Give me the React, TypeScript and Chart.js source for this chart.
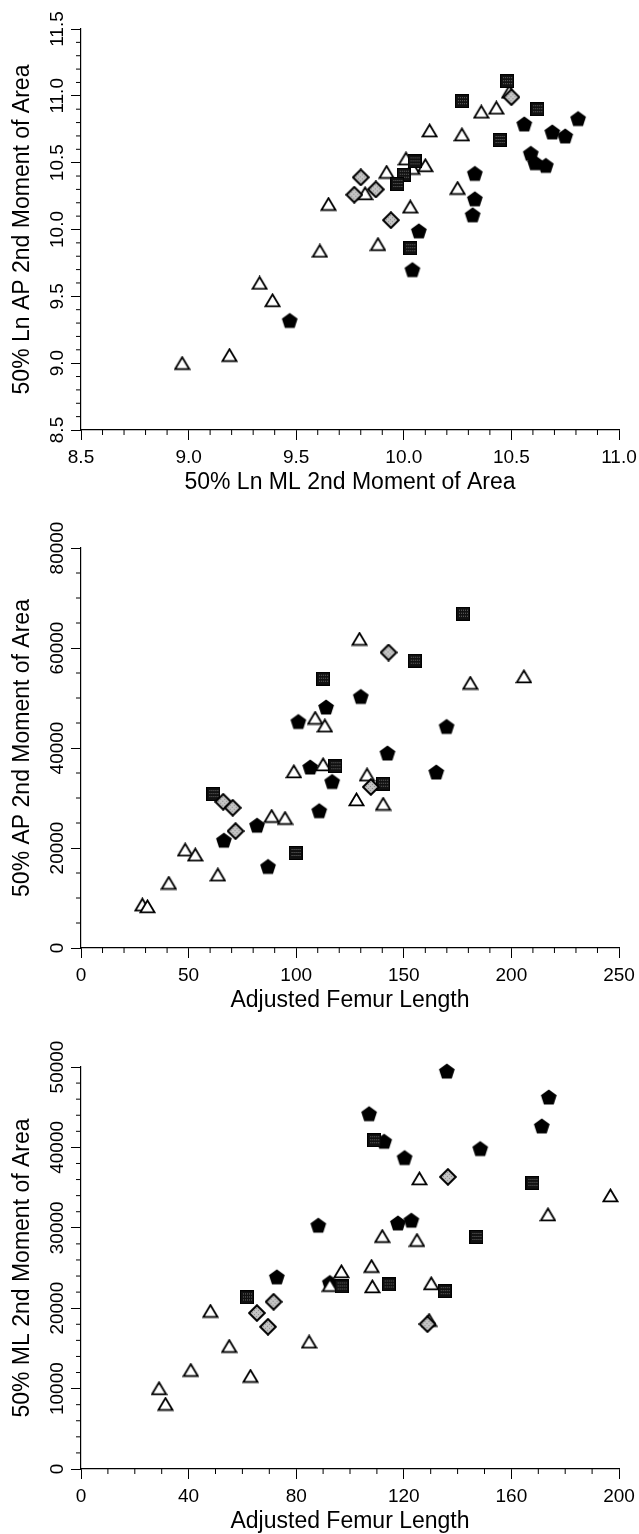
import React, { useEffect, useRef } from 'react';
import { Chart, registerables } from 'chart.js';

Chart.register(...registerables);

type Pt = [number, number];

const FONT = '"Liberation Sans", Arial, Helvetica, sans-serif';

// ---------- Panel 1: 50% Ln ML (x) vs 50% Ln AP (y) ----------
const lnXTicks = [8.5, 9.0, 9.5, 10.0, 10.5, 11.0];
const lnYTicks = [8.5, 9.0, 9.5, 10.0, 10.5, 11.0, 11.5];
const lnTriangles: Pt[] = [
  [10.49, 11.03], [10.43, 10.91], [10.36, 10.88], [10.12, 10.74], [10.27, 10.71],
  [10.01, 10.53], [10.04, 10.46], [10.1, 10.48], [9.92, 10.43], [9.82, 10.27],
  [10.25, 10.31], [9.65, 10.19], [10.03, 10.17], [9.88, 9.89], [9.61, 9.84],
  [9.33, 9.6], [9.39, 9.47], [9.19, 9.06], [8.97, 9.0],
];
const lnPentagons: Pt[] = [
  [10.81, 10.83], [10.56, 10.79], [10.69, 10.73], [10.75, 10.7], [10.59, 10.57],
  [10.61, 10.5], [10.66, 10.48], [10.33, 10.42], [10.33, 10.23], [10.32, 10.11],
  [10.07, 9.99], [10.04, 9.7], [9.47, 9.32],
];
const lnSquares: Pt[] = [
  [10.48, 11.11], [10.27, 10.96], [10.62, 10.9], [10.445, 10.67], [10.05, 10.51],
  [10.0, 10.41], [9.97, 10.34], [10.03, 9.86],
];
const lnDiamonds: Pt[] = [
  [10.5, 10.99], [9.8, 10.39], [9.87, 10.3], [9.77, 10.26], [9.94, 10.07],
];

// ---------- Panel 2: Adjusted Femur Length (x) vs 50% AP (y) ----------
const apXTicks = [0, 50, 100, 150, 200, 250];
const apYTicks = [0, 20000, 40000, 60000, 80000];
const apTriangles: Pt[] = [
  [129.4, 61800], [180.9, 53000], [205.8, 54300], [108.8, 46000], [113.3, 44460],
  [112.5, 36700], [98.9, 35300], [132.9, 34660], [128.0, 29700], [140.4, 28800],
  [88.6, 26380], [94.8, 25980], [48.4, 19660], [53.1, 18660], [63.6, 14660],
  [40.8, 13000], [28.5, 8660], [30.9, 8320],
];
const apPentagons: Pt[] = [
  [130.0, 50320], [113.9, 48200], [101.0, 45300], [169.9, 44320], [142.4, 39000],
  [106.5, 36200], [165.1, 35200], [116.7, 33300], [110.7, 27470], [81.8, 24570],
  [66.4, 21570], [86.9, 16320],
];
const apSquares: Pt[] = [
  [177.5, 66860], [155.1, 57460], [112.5, 53860], [118.2, 36360], [140.4, 32860],
  [61.5, 30780], [99.7, 19000],
];
const apDiamonds: Pt[] = [
  [142.9, 59100], [134.7, 32200], [66.1, 29240], [70.5, 28040], [71.8, 23380],
];

// ---------- Panel 3: Adjusted Femur Length (x) vs 50% ML (y) ----------
const mlXTicks = [0, 40, 80, 120, 160, 200];
const mlYTicks = [0, 10000, 20000, 30000, 40000, 50000];
const mlTriangles: Pt[] = [
  [125.8, 36130], [196.8, 34020], [173.6, 31650], [112.0, 28960], [124.9, 28460],
  [108.0, 25230], [96.8, 24580], [92.5, 22870], [108.3, 22700], [130.2, 23080],
  [48.1, 19650], [129.4, 18520], [55.1, 15290], [84.8, 15820], [40.8, 12300],
  [63.0, 11560], [29.0, 10030], [31.4, 8080],
];
const mlPentagons: Pt[] = [
  [136.0, 49500], [173.9, 46270], [107.1, 44200], [171.3, 42670], [112.7, 40770],
  [148.4, 39860], [120.3, 38740], [88.2, 30330], [117.8, 30610], [122.8, 30950],
  [72.8, 23900], [92.5, 23200],
];
const mlSquares: Pt[] = [
  [109.0, 40890], [167.8, 35590], [147.0, 28870], [96.9, 22700], [114.4, 22950],
  [135.2, 22120], [61.7, 21340],
];
const mlDiamonds: Pt[] = [
  [136.4, 36330], [71.6, 20800], [65.4, 19400], [69.5, 17690], [128.8, 18020],
];

interface PanelSpec {
  top: number;
  height: number;
  plotTop: number;
  plotBottom: number;
  titleCenter: number;
  xTicks: number[];
  yTicks: number[];
  xMinor: number;
  yMinor: number;
  decimals: number;
  xTitle: string;
  yTitle: string;
  tri: Pt[];
  pent: Pt[];
  sq: Pt[];
  dia: Pt[];
}

const panels: PanelSpec[] = [
  {
    top: 0, height: 500, plotTop: 29, plotBottom: 430, titleCenter: 483,
    xTicks: lnXTicks, yTicks: lnYTicks, xMinor: 0.1, yMinor: 0.1, decimals: 1,
    xTitle: '50% Ln ML 2nd Moment of Area', yTitle: '50% Ln AP 2nd Moment of Area',
    tri: lnTriangles, pent: lnPentagons, sq: lnSquares, dia: lnDiamonds,
  },
  {
    top: 500, height: 520, plotTop: 548, plotBottom: 948, titleCenter: 1001,
    xTicks: apXTicks, yTicks: apYTicks, xMinor: 10, yMinor: 5000, decimals: 0,
    xTitle: 'Adjusted Femur Length', yTitle: '50% AP 2nd Moment of Area',
    tri: apTriangles, pent: apPentagons, sq: apSquares, dia: apDiamonds,
  },
  {
    top: 1020, height: 514, plotTop: 1067, plotBottom: 1469, titleCenter: 1522,
    xTicks: mlXTicks, yTicks: mlYTicks, xMinor: 10, yMinor: 2000, decimals: 0,
    xTitle: 'Adjusted Femur Length', yTitle: '50% ML 2nd Moment of Area',
    tri: mlTriangles, pent: mlPentagons, sq: mlSquares, dia: mlDiamonds,
  },
];

function makeCanvas(w: number, h: number, draw: (ctx: CanvasRenderingContext2D) => void) {
  const c = document.createElement('canvas');
  c.width = w;
  c.height = h;
  const ctx = c.getContext('2d')!;
  draw(ctx);
  return c;
}

function makeMarkers() {
  const tri = makeCanvas(17, 15, (ctx) => {
    ctx.beginPath();
    ctx.moveTo(8.5, 1.5);
    ctx.lineTo(15.5, 13.3);
    ctx.lineTo(1.5, 13.3);
    ctx.closePath();
    ctx.fillStyle = '#fff';
    ctx.fill();
    ctx.lineWidth = 1.8;
    ctx.strokeStyle = '#000';
    ctx.stroke();
  });
  const pent = makeCanvas(18, 18, (ctx) => {
    const r = 8.3;
    const cx = 9;
    const cy = 9 + 0.0955 * r;
    ctx.beginPath();
    for (let k = 0; k < 5; k++) {
      const a = (-90 + 72 * k) * Math.PI / 180;
      const px = cx + r * Math.cos(a);
      const py = cy + r * Math.sin(a);
      if (k === 0) ctx.moveTo(px, py); else ctx.lineTo(px, py);
    }
    ctx.closePath();
    ctx.fillStyle = '#000';
    ctx.fill();
  });
  const sq = makeCanvas(14, 14, (ctx) => {
    ctx.fillStyle = '#111';
    ctx.fillRect(0.5, 0.5, 13, 13);
    ctx.fillStyle = '#6a6a6a';
    for (let i = 3; i < 12; i += 2) {
      for (let j = 3; j < 12; j += 3) ctx.fillRect(i, j, 1, 1);
    }
    ctx.strokeStyle = '#000';
    ctx.lineWidth = 1;
    ctx.strokeRect(0.5, 0.5, 13, 13);
  });
  const dia = makeCanvas(18, 18, (ctx) => {
    ctx.beginPath();
    ctx.moveTo(9, 1.2);
    ctx.lineTo(16.8, 9);
    ctx.lineTo(9, 16.8);
    ctx.lineTo(1.2, 9);
    ctx.closePath();
    ctx.fillStyle = '#c4c4c4';
    ctx.fill();
    ctx.save();
    ctx.clip();
    ctx.fillStyle = '#8a8a8a';
    for (let i = 2; i < 17; i += 2) {
      for (let j = 2; j < 17; j += 2) if ((i + j) % 4 === 0) ctx.fillRect(i, j, 1, 1);
    }
    ctx.restore();
    ctx.lineWidth = 2;
    ctx.strokeStyle = '#000';
    ctx.stroke();
  });
  return { tri, pent, sq, dia };
}

const axisExtras = {
  id: 'axisExtras',
  afterDraw(chart: any, _args: any, opts: any) {
    const { ctx } = chart;
    const xs = chart.scales.x;
    const ys = chart.scales.y;
    ctx.save();
    ctx.strokeStyle = '#000';
    ctx.lineWidth = 1;
    const isMajor = (v: number, ticks: any[]) => ticks.some((t) => Math.abs(t.value - v) < 1e-6);
    const nx = Math.round((xs.max - xs.min) / opts.xMinor);
    for (let i = 0; i <= nx; i++) {
      const v = xs.min + i * opts.xMinor;
      if (isMajor(v, xs.ticks)) continue;
      const p = xs.getPixelForValue(v);
      ctx.beginPath();
      ctx.moveTo(p, xs.top);
      ctx.lineTo(p, xs.top + 5);
      ctx.stroke();
    }
    const ny = Math.round((ys.max - ys.min) / opts.yMinor);
    for (let i = 0; i <= ny; i++) {
      const v = ys.min + i * opts.yMinor;
      if (isMajor(v, ys.ticks)) continue;
      const p = ys.getPixelForValue(v);
      ctx.beginPath();
      ctx.moveTo(ys.right, p);
      ctx.lineTo(ys.right - 5, p);
      ctx.stroke();
    }
    ctx.fillStyle = '#000';
    ctx.font = `19px ${FONT}`;
    ctx.textAlign = 'center';
    ctx.textBaseline = 'middle';
    ys.ticks.forEach((t: any) => {
      const p = ys.getPixelForValue(t.value);
      ctx.save();
      ctx.translate(opts.labelX, p);
      ctx.rotate(-Math.PI / 2);
      ctx.fillText(Number(t.value).toFixed(opts.decimals), 0, 0);
      ctx.restore();
    });
    ctx.restore();
  },
};

function Panel({ spec }: { spec: PanelSpec }) {
  const ref = useRef<HTMLCanvasElement>(null);
  useEffect(() => {
    const m = makeMarkers();
    const toXY = (a: Pt[]) => a.map(([x, y]) => ({ x, y }));
    const xScaleH = spec.top + spec.height - spec.plotBottom;
    const titlePad = spec.top + spec.height - spec.titleCenter - 11.5;
    const chart = new Chart(ref.current!, {
      type: 'scatter',
      data: {
        datasets: [
          { data: toXY(spec.dia), pointStyle: m.dia as any, clip: false },
          { data: toXY(spec.sq), pointStyle: m.sq as any, clip: false },
          { data: toXY(spec.tri), pointStyle: m.tri as any, clip: false },
          { data: toXY(spec.pent), pointStyle: m.pent as any, clip: false },
        ],
      },
      options: {
        responsive: false,
        animation: false,
        devicePixelRatio: 1,
        events: [],
        layout: { padding: { top: spec.plotTop - spec.top, right: 20, left: 0, bottom: 0 } },
        plugins: {
          legend: { display: false },
          tooltip: { enabled: false },
          axisExtras: { xMinor: spec.xMinor, yMinor: spec.yMinor, decimals: spec.decimals, labelX: 58 },
        } as any,
        scales: {
          x: {
            type: 'linear',
            position: 'bottom',
            min: spec.xTicks[0],
            max: spec.xTicks[spec.xTicks.length - 1],
            afterBuildTicks: (s: any) => { s.ticks = spec.xTicks.map((v) => ({ value: v })); },
            afterFit: (s: any) => { s.height = xScaleH; s.paddingLeft = 0; s.paddingRight = 0; },
            ticks: {
              color: '#000',
              font: { family: FONT, size: 19 },
              padding: 6,
              maxRotation: 0,
              minRotation: 0,
              autoSkip: false,
              callback: (v: any) => Number(v).toFixed(spec.decimals),
            },
            grid: { drawOnChartArea: false, drawTicks: true, tickLength: 10, color: '#000', tickColor: '#000', tickWidth: 1 },
            border: { display: true, color: '#000', width: 1.2 },
            title: {
              display: true,
              text: spec.xTitle,
              color: '#000',
              font: { family: FONT, size: 23, lineHeight: 1 },
              padding: { top: 0, bottom: titlePad },
            },
          },
          y: {
            type: 'linear',
            position: 'left',
            min: spec.yTicks[0],
            max: spec.yTicks[spec.yTicks.length - 1],
            afterBuildTicks: (s: any) => { s.ticks = spec.yTicks.map((v) => ({ value: v })); },
            afterFit: (s: any) => { s.width = 81; s.paddingTop = 0; s.paddingBottom = 0; },
            ticks: { display: false },
            grid: { drawOnChartArea: false, drawTicks: true, tickLength: 10, color: '#000', tickColor: '#000', tickWidth: 1 },
            border: { display: true, color: '#000', width: 1.2 },
            title: {
              display: true,
              text: spec.yTitle,
              color: '#000',
              font: { family: FONT, size: 23, lineHeight: 1 },
              padding: { top: 11, bottom: 0 },
            },
          },
        },
      } as any,
      plugins: [axisExtras as any],
    });
    return () => chart.destroy();
  }, [spec]);
  return (
    <div style={{ position: 'absolute', left: 0, top: spec.top, width: 639, height: spec.height }}>
      <canvas ref={ref} width={639} height={spec.height} style={{ display: 'block' }} />
    </div>
  );
}

export default function App() {
  return (
    <div style={{ position: 'absolute', left: 0, top: 0, width: 639, height: 1534, background: '#fff' }}>
      {panels.map((p, i) => (
        <Panel key={i} spec={p} />
      ))}
    </div>
  );
}
